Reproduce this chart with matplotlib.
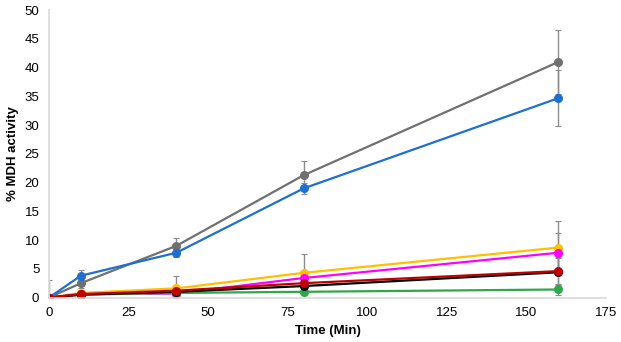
import matplotlib.pyplot as plt
import numpy as np

plt.rcParams['font.family'] = ['Liberation Sans', 'DejaVu Sans']

time = [0, 10, 40, 80, 160]

gray = [0, 2.5, 9.0, 21.3, 41.0]
gray_err = [0, 0.8, 1.3, 2.4, 5.5]
blue = [0, 3.8, 7.8, 19.0, 34.7]
blue_err = [0, 1.0, 0.8, 1.0, 4.9]
yellow = [0, 0.8, 1.6, 4.3, 8.7]
yellow_err = [3.0, 0.5, 2.2, 3.3, 4.7]
magenta = [0, 0.6, 0.7, 3.4, 7.8]
magenta_err = [0, 0.3, 0.4, 1.0, 3.5]
black = [0, 0.5, 1.0, 2.0, 4.4]
black_err = [0, 0.2, 0.5, 0.8, 2.5]
red = [0, 0.6, 1.2, 2.5, 4.6]
red_err = [0, 0.3, 0.6, 0.9, 2.5]
green = [0, 0.5, 0.8, 1.0, 1.4]
green_err = [0, 0.2, 0.3, 0.5, 1.0]

series = [
    (gray, gray_err, '#707070'),
    (blue, blue_err, '#1f6fd0'),
    (yellow, yellow_err, '#ffc000'),
    (magenta, magenta_err, '#ff00ff'),
    (green, green_err, '#2ea84a'),
    (black, black_err, '#000000'),
    (red, red_err, '#c00000'),
]

fig, ax = plt.subplots(figsize=(6.21, 3.42), dpi=100)
fig.subplots_adjust(left=0.079, right=0.976, top=0.97, bottom=0.13)

for vals, errs, col in series:
    ax.errorbar(time, vals, yerr=errs, color=col, ecolor='#8c8c8c', elinewidth=1,
                capsize=2, capthick=0.8, marker='o', markersize=5.5, linewidth=1.6)

ax.set_xlim(0, 175)
ax.set_ylim(0, 50)
ax.set_xticks(np.arange(0, 176, 25))
ax.set_yticks(np.arange(0, 51, 5))
for s in ['top', 'right']:
    ax.spines[s].set_visible(False)
for s in ['left', 'bottom']:
    ax.spines[s].set_color('#d9d9d9')
    ax.spines[s].set_linewidth(1.2)
ax.tick_params(length=0, labelsize=9.5, pad=7)
ax.set_xlabel('Time (Min)', fontsize=9.5, fontweight='bold')
ax.set_ylabel('% MDH activity', fontsize=9.5, fontweight='bold', labelpad=4)

plt.savefig('out.png')
